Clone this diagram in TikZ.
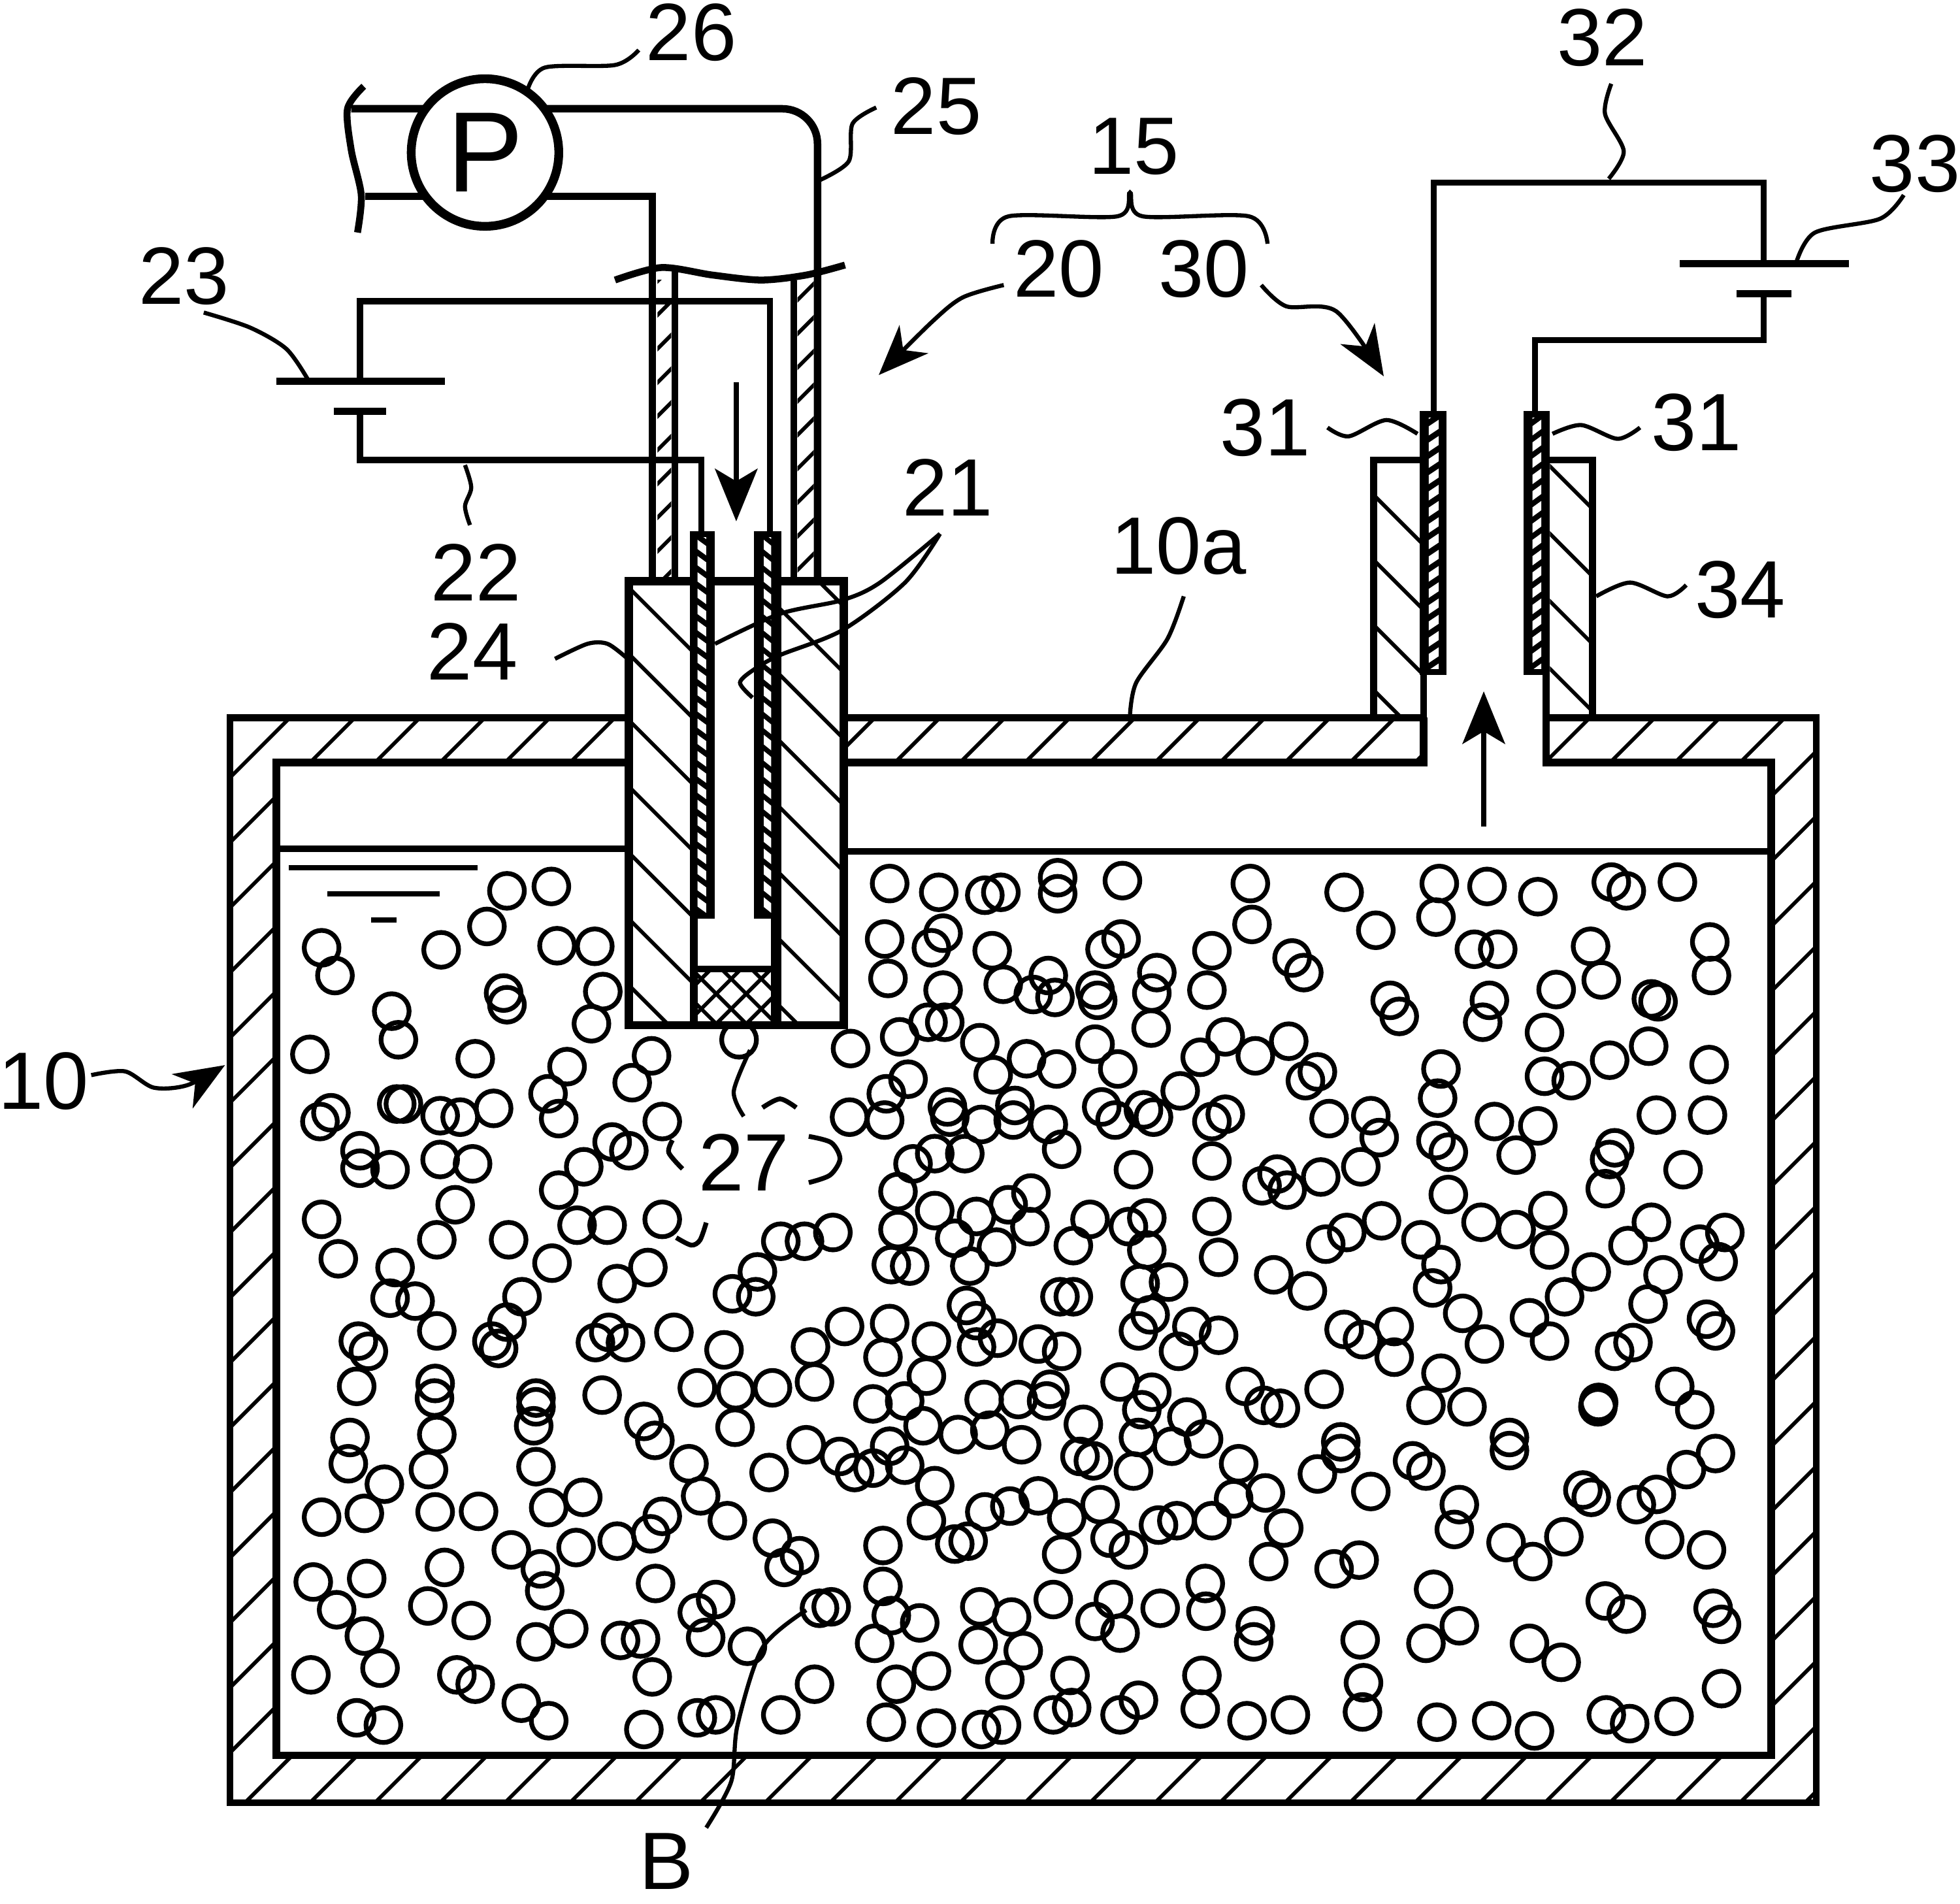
\documentclass[tikz,border=0pt]{standalone}
\usepackage{fontspec}
\setmainfont{Liberation Sans}
\usetikzlibrary{arrows.meta}
\tikzset{
  wall/.style={line width=0.055cm},
  wire/.style={line width=0.05cm},
  thin hatch/.style={line width=0.03cm},
  ball/.style={line width=0.038cm},
  leader/.style={line width=0.033cm},
  flow/.style={line width=0.04cm,-{Stealth[length=0.42cm,width=0.34cm,inset=0.1cm]}},
  lbl/.style={font=\fontsize{18.5}{19}\selectfont,inner sep=0pt},
  tile/.style 2 args={x=0.0026667cm,y=-0.0023333cm,shift={(#1cm,#2cm)}}
}
\begin{document}
\begin{tikzpicture}[x=0.01cm,y=-0.01cm]
  \useasboundingbox (0,0) rectangle (1568,1523);
  % tank wall hatching
  \begin{scope}
    \clip (184,574) rectangle (1453,1442);
    \foreach \s in {806,858,...,2900} \draw[thin hatch] (\s,0) -- (0,\s);
  \end{scope}
  \fill[white] (221,610) rectangle (1417,1404);
  \fill[white] (1139,565) rectangle (1237,620);
  % balls
  \begin{scope}[tile={2.0907}{-6.795}]
    \foreach \bx/\by in {735/140,868/125,675/262,180/335,220/430,538/342,885/328,998/330,725/490,735/530,1022/485,988/595,390/552,410/650,145/700,640/715,915/742,1168/705,1110/797,858/835,890/920,208/900,175/930,405/870,425/870,535/910,595/915,695/885,295/1030,295/1090,385/1095,535/1060,632/1075,1050/1000,1100/1030,965/1085,890/1165,1200/930,580/1215,525/1335,180/1265,230/1400,400/1430,385/1535,460/1545,740/1335,870/1415,945/1285,1035/1285,1200/1265,1157/1430,1065/1485,1555/1340,1485/1445,1410/1520,1480/1530,780/1530,1430/650}
      \draw[ball] (\bx,\by) circle[radius=0.139cm];
  \end{scope}
  \begin{scope}[tile={6.272}{-6.795}]
    \foreach \bx/\by in {315/115,462/145,600/155,648/145,818/95,818/150,1012/105,1395/115,1400/255,300/305,310/440,475/285,440/335,622/345,1008/305,960/340,655/460,790/430,745/495,810/505,930/480,938/515,1280/345,1115/420,1100/490,1265/480,1520/370,1555/420,475/480,430/590,480/590,345/640,198/680,1098/610,585/660,725/715,815/750,625/770,930/665,998/750,370/785,305/835,195/915,300/925,1320/640,1245/710,1410/705,1510/655,1185/825,1560/790,690/875,488/880,495/915,590/940,685/925,790/940,830/1025,950/880,990/925,1075/890,1105/915,1320/905,1280/930,1280/1065,450/1040,540/1040,385/1075,340/1170,1045/1095,1475/1110,1430/1150,1505/1165,738/1175,670/1215,450/1235,575/1255,735/1290,1085/1260,1030/1290,915/1265,865/1355,1280/1255,1300/1395,1085/1370,510/1330,635/1360,340/1300,145/1310,60/1340,320/1420,375/1425,555/1425,1465/1455,1065/1485,1150/1480,865/1530,825/1530,545/1560}
      \draw[ball] (\bx,\by) circle[radius=0.139cm];
  \end{scope}
  \begin{scope}[tile={10.453}{-6.795}]
    \foreach \bx/\by in {110/145,205/275,395/115,385/230,538/125,690/160,910/110,955/140,1108/110,500/340,570/340,848/330,880/445,745/478,1205/315,1210/430,1030/510,1050/520,248/515,275/570,545/515,525/590,710/625,905/720,1022/672,710/775,790/790,400/750,390/850,1203/735,30/760,65/920,190/910,215/985,160/1085,40/1120,385/995,422/1035,560/930,690/945,625/1045,920/1020,905/1060,892/1160,1045/908,1198/908,1125/1095,422/1180,520/1275,625/1300,720/1235,725/1370,222/1270,118/1310,55/1350,340/1335,400/1420,375/1500,850/1445,960/1355,1030/1275,1175/1350,1250/1310,1230/1410,1065/1455,770/1530,1020/1555,0/1510}
      \draw[ball] (\bx,\by) circle[radius=0.139cm];
  \end{scope}
  \begin{scope}[tile={2.0907}{-10.453}]
    \foreach \bx/\by in {290/115,320/150,525/80,735/50,690/115,710/140,1040/85,1000/120,1090/120,1235/85,1385/145,285/270,520/260,518/310,822/310,822/340,815/405,1020/300,1305/275,1420/285,1530/275,1145/390,1178/455,1418/410,265/445,260/535,525/435,500/555,368/605,822/545,1280/535,1315/645,1395/730,1520/565,962/650,860/685,1200/715,1165/775,1065/800,942/822,748/830,835/895,848/970,180/718,308/705,520/700,650/698,1530/790,1565/890,548/890,498/1022,155/940,315/928,225/1035,308/1125,628/1072,920/1100,822/1145,1075/1140,1135/1135,1180/945,1360/1000,1305/1045,1330/1130,1455/1160,148/1258,355/1235,585/1258,640/1290,1170/1265,778/1355,860/1415,285/1405,365/1430,1145/1445,1305/1405,1360/1395,1555/1395}
      \draw[ball] (\bx,\by) circle[radius=0.139cm];
  \end{scope}
  \begin{scope}[tile={6.272}{-10.453}]
    \foreach \bx/\by in {180/65,315/55,78/135,90/255,440/115,295/170,575/45,638/105,575/135,760/125,830/150,1095/25,1060/80,1220/65,1300/95,1180/150,425/235,795/280,265/330,360/320,598/315,700/315,785/320,1005/255,1100/290,1070/350,1380/270,1435/335,1485/345,415/405,520/435,615/420,710/470,895/400,885/510,925/525,1205/375,1255/450,1060/445,1160/475,65/470,165/510,210/565,315/475,265/550,360/540,1045/560,1360/535,1440/635,1345/655,1280/730,1120/745,1175/730,1495/755,450/610,760/645,675/680,600/700,945/675,845/720,975/790,1030/830,425/730,510/810,550/800,295/815,830/845,1450/870,45/850,295/955,140/1025,105/1030,1260/945,1262/1040,805/1000,985/1000,930/1075,1005/1115,1125/1030,585/1025,680/1060,580/1155,715/1175,405/1080,320/1055,270/1150,1410/1090,1405/1145,440/1245,335/1290,90/1290,660/1275,855/1260,1250/1260,1245/1375,1060/1345,1005/1395,805/1395,860/1370,305/1420,455/1440,590/1445,650/1430,1385/1415,1515/1395}
      \draw[ball] (\bx,\by) circle[radius=0.139cm];
  \end{scope}
  \begin{scope}[tile={10.453}{-10.453}]
    \foreach \bx/\by in {110/75,260/65,165/110,260/170,465/20,530/125,665/35,725/115,975/120,920/150,1195/40,1222/80,400/225,50/280,355/335,478/340,1100/270,1160/350,872/325,870/340,605/445,605/490,100/460,100/500,30/570,315/525,355/560,190/630,1222/500,1135/555,455/675,440/760,825/625,850/650,1045/640,985/675,595/805,768/785,675/870,1070/795,1195/830,155/865,80/895,378/965,892/1005,955/1050,1215/1030,1240/1085,455/1090,355/1150,158/1138,665/1150,760/1215,1240/1305,168/1285,165/1385,388/1420,552/1415,680/1450,895/1395,965/1425,1098/1400}
      \draw[ball] (\bx,\by) circle[radius=0.139cm];
  \end{scope}
  % pieces of balls left round the label 27
  \draw[ball] plot[smooth] coordinates {(610,886) (624,879) (637,886)};
  \draw[ball] plot[smooth] coordinates {(538,912) (535,922) (546,935)};
  \draw[ball] plot[smooth] coordinates {(647,909) (665,914) (672,927) (664,940) (647,946)};
  \draw[ball] plot[smooth] coordinates {(565,978) (560,992) (553,996) (541,990)};
  % tank
  \draw[wall] (1139,540) -- (1139,574) -- (184,574) -- (184,1442) -- (1453,1442) -- (1453,574) -- (1237,574) -- (1237,540);
  \draw[wall,line width=0.06cm] (1139,574) -- (1139,610) -- (221,610) -- (221,1404) -- (1417,1404) -- (1417,610) -- (1237,610) -- (1237,574);
  \draw[wall] (221,679) -- (503,679) (675,681) -- (1417,681);
  \draw[wall,line width=0.04cm] (231,694) -- (382,694) (262,715) -- (352,715) (297,736) -- (317,736);
  % holder 24
  \draw[wall,fill=white,line width=0.065cm] (503,465) rectangle (675,820);
  \begin{scope}
    \clip (503,465) rectangle (552,820);
    \foreach \s in {33,-20,...,-300} \draw[thin hatch] ({\s+400},400) -- ({\s+900},900);
  \end{scope}
  \begin{scope}
    \clip (625,465) rectangle (675,820);
    \foreach \s in {190,137,...,-200} \draw[thin hatch] ({\s+400},400) -- ({\s+900},900);
  \end{scope}
  \draw[wall,line width=0.06cm] (555,465) -- (555,820);
  \draw[wall,line width=0.085cm] (621,465) -- (621,820);
  % mesh
  \begin{scope}
    \clip (558,776) rectangle (617,818);
    \foreach \s in {1320,1344,...,1460} \draw[thin hatch] (\s,0) -- (0,\s);
    \foreach \s in {-270,-246,...,-140} \draw[thin hatch] ({\s+700},700) -- ({\s+900},900);
  \end{scope}
  \draw[wall] (555,775) -- (621,775);
  % collars 34
  \begin{scope}
    \clip (1099,368) rectangle (1139,574);
    \foreach \s in {703,651,...,500} \draw[thin hatch] ({\s+300},300) -- ({\s+700},700);
  \end{scope}
  \begin{scope}
    \clip (1240,368) rectangle (1274,574);
    \foreach \s in {867,813,...,650} \draw[thin hatch] ({\s+300},300) -- ({\s+700},700);
  \end{scope}
  \draw[wall] (1099,574) -- (1099,368) -- (1139,368) (1240,368) -- (1274,368) -- (1274,574);
  % electrodes 21 and 31
  \foreach \xa/\xb/\xc/\xd/\ya/\yb/\sl in {552/558/565/572/425/735/1,603/611/617/625/425/735/1,1136/1143/1151/1157/329/540/-1,1219/1226/1233/1240/329/540/-1} {
    \fill (\xa,\ya) rectangle (\xd,\yb);
    \begin{scope}
      \clip (\xb,\ya+5) rectangle (\xc,\yb-5);
      \foreach \k in {0,...,24} \draw[white,line width=0.06cm] ({\xb-2},{\ya+\k*13-4*\sl}) -- ({\xc+2},{\ya+\k*13+4*\sl});
    \end{scope}
  }
  % pipe 25
  \begin{scope}
    \clip (526,224) rectangle (537,465);
    \foreach \s in {751,778,...,1010} \draw[thin hatch] (\s,0) -- (0,\s);
  \end{scope}
  \begin{scope}
    \clip (638,224) rectangle (651,465);
    \foreach \s in {851,878,...,1120} \draw[thin hatch] (\s,0) -- (0,\s);
  \end{scope}
  \draw[wall,line width=0.06cm] (292,157) -- (522,157) -- (522,465);
  \draw[wall,line width=0.06cm,rounded corners=0.28cm] (281,87) -- (654,87) -- (654,465);
  \draw[wall] (540,216) -- (540,465) (635,224) -- (635,465);
  \draw[wall] plot[smooth] coordinates {(492,224) (529,214) (570,220) (609,224) (645,220) (676,212)};
  \draw[wall] plot[smooth] coordinates {(291,69) (278,87) (281,120) (289,156) (286,186)};
  \node[circle,draw,fill=white,line width=0.07cm,minimum size=1.18cm,inner sep=0pt,font=\fontsize{26}{26}\selectfont] (pump) at (388,122) {P};
  % power sources
  \draw[wire] (616,425) -- (616,241) -- (288,241) -- (288,305);
  \draw[wire] (561,425) -- (561,368) -- (288,368) -- (288,329);
  \draw[wall] (221,305) -- (356,305);
  \draw[wall] (267,329) -- (309,329);
  \draw[wire] (1147,329) -- (1147,146) -- (1411,146) -- (1411,211);
  \draw[wire] (1228,329) -- (1228,272) -- (1411,272) -- (1411,235);
  \draw[wall] (1344,211) -- (1479,211);
  \draw[wall] (1389,235) -- (1433,235);
  % flow arrows
  \draw[flow] (589,306) -- (589,417);
  \draw[flow] (1187,661) -- (1187,553);
  % labels
  \node[lbl] (n26) at (553,26) {26};
  \node[lbl] (n25) at (749,85) {25};
  \node[lbl] (n23) at (147,221) {23};
  \node[lbl] (n22) at (381,458) {22};
  \node[lbl] (n24) at (378,521) {24};
  \node[lbl] (n15) at (907,117) {15};
  \node[lbl] (n20) at (847,215) {20};
  \node[lbl] (n30) at (963,215) {30};
  \node[lbl] (n21) at (758,390) {21};
  \node[lbl] (n10a) at (943,437) {10a};
  \node[lbl] (n31a) at (1012,342) {31};
  \node[lbl] (n31b) at (1357,338) {31};
  \node[lbl] (n32) at (1282,30) {32};
  \node[lbl] (n33) at (1532,131) {33};
  \node[lbl] (n34) at (1392,472) {34};
  \node[lbl] (n10) at (35,865) {10};
  \node[lbl] (n27) at (595,930) {27};
  \node[lbl] (nB) at (533,1489) {B};
  % leaders
  \draw[leader] plot[smooth] coordinates {(422,72) (436,54) (492,52) (511,40)};
  \draw[leader] plot[smooth] coordinates {(656,144) (679,129) (682,99) (701,86)};
  \draw[leader] plot[smooth] coordinates {(163,250) (200,262) (229,279) (246,303)};
  \draw[leader] plot[smooth] coordinates {(372,372) (377,390) (372,405) (376,420)};
  \draw[leader] plot[smooth] coordinates {(444,527) (470,515) (486,515) (501,526)};
  \draw[leader] plot[smooth] coordinates {(752,427) (704,466) (674,480) (624,491) (572,515)};
  \draw[leader] plot[smooth] coordinates {(752,427) (724,466) (674,504) (624,524) (604,535) (592,546) (602,558)};
  \draw[leader] plot[smooth] coordinates {(600,840) (587,873) (595,893)};
  \draw[leader] plot[smooth] coordinates {(1062,342) (1079,349) (1109,336) (1134,347)};
  \draw[leader] plot[smooth] coordinates {(1242,347) (1265,340) (1294,351) (1312,342)};
  \draw[leader] plot[smooth] coordinates {(1289,67) (1284,91) (1299,121) (1287,143)};
  \draw[leader] plot[smooth] coordinates {(1437,210) (1452,186) (1504,175) (1523,156)};
  \draw[leader] plot[smooth] coordinates {(1277,477) (1304,466) (1334,477) (1349,468)};
  \draw[leader] plot[smooth] coordinates {(947,477) (934,511) (909,546) (904,572)};
  \draw[leader] plot[smooth] coordinates {(645,1288) (610,1318) (590,1380) (585,1425) (565,1462)};
  % brace 15
  \draw[leader] plot[smooth] coordinates {(794,195) (807,173) (894,173) (904,154) (914,173) (999,173) (1014,195)};
  % curved arrows
  \draw[leader,-{Stealth[length=0.4cm,width=0.32cm,inset=0.12cm]}] plot[smooth] coordinates {(803,228) (770,238) (745,258) (703,300)};
  \draw[leader,-{Stealth[length=0.4cm,width=0.32cm,inset=0.12cm]}] plot[smooth] coordinates {(1009,228) (1029,245) (1069,249) (1107,301)};
  \draw[leader,-{Stealth[length=0.4cm,width=0.32cm,inset=0.12cm]}] plot[smooth] coordinates {(73,860) (100,857) (123,870) (150,868) (180,852)};
\end{tikzpicture}
\end{document}
